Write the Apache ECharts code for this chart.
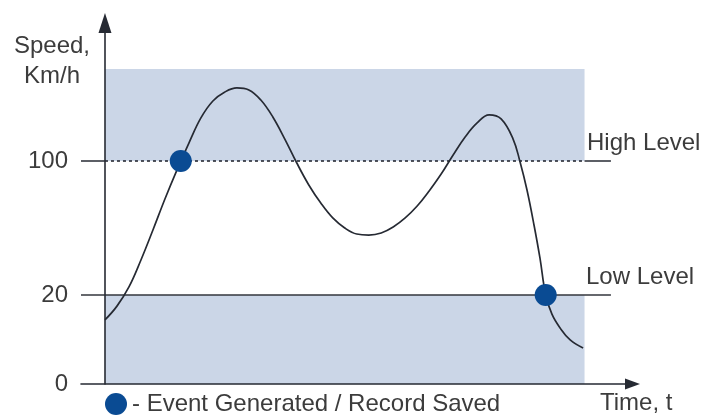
<!DOCTYPE html>
<html>
<head>
<meta charset="utf-8">
<script src="https://cdn.jsdelivr.net/npm/echarts@6/dist/echarts.min.js"></script>
<style>
  html, body { margin: 0; padding: 0; background: #ffffff; }
  #chart { width: 703px; height: 417px; }
</style>
</head>
<body>
<div id="chart"></div>
<script>
// Speed profile over time (time in arbitrary units, speed in km/h)
const curveTimes = [0, 2.5, 5.0, 7.5, 10.0, 12.5, 15.0, 17.5, 20.0, 22.5, 25.0, 27.5, 30.0, 32.5,
  35.0, 37.5, 40.0, 42.5, 45.0, 47.5, 50.0, 52.5, 55.0, 57.6, 60.1, 62.6, 65.1, 67.6, 70.1,
  72.6, 75.1, 77.6, 80.1, 82.6, 85.1, 86.5, 88.0, 89.5, 90.7, 91.9, 93.2, 94.9, 97.0, 99.7];
const curveSpeeds = [14.4, 17.5, 24.8, 40.9, 58.8, 77.3, 94.6, 110.7, 125.7, 135.8, 141.2, 143.6, 142.4, 136.4,
  126.3, 113.1, 98.8, 85.7, 74.9, 66.0, 60.0, 56.4, 55.8, 57.0, 60.6, 66.0, 73.1, 82.1, 92.2,
  103.6, 114.3, 122.7, 127.5, 125.1, 113.1, 100, 82.7, 61.2, 42.1, 20, 15.7, 12.6, 9.9, 8.1];

// Points where an event is generated and a record saved
const eventName = 'Event Generated / Record Saved';
const eventTimes = [15.8, 91.9];
const eventSpeeds = [100, 20];

// Threshold levels
const levelNames = ['High Level', 'Low Level'];
const levelSpeeds = [100, 20];
const levelSpan = [-5, 105.5];

// Shaded bands of the observation window: above the high level and below the low level
const zoneTimes = [0, 100];
const upperBand = [100, 155];
const lowerBand = [0, 20];

// Speed axis ticks
const yTickSpeeds = [0, 20, 100];
const yTickLabels = ['0', '20', '100'];

// Axis extents
const timeMin = -5, timeMax = 110;

// Schematic speed scale: the band under the low level is drawn stretched,
// above it the scale runs at a constant rate.
const scaleStops = [[0, 0], [20, 89], [100, 223]];
function toAxis(v) {
  for (let i = 1; i < scaleStops.length; i++) {
    const a = scaleStops[i - 1], b = scaleStops[i];
    if (v <= b[0] || i === scaleStops.length - 1) {
      return a[1] + (v - a[0]) * (b[1] - a[1]) / (b[0] - a[0]);
    }
  }
}
const axisMax = 361;

const FONT = "'Liberation Sans', Arial, Helvetica, sans-serif";
const TEXT = '#3c3c3c';
const INK = '#262a33';
const DOT = '#0a4b93';
const BAND = '#cbd6e7';

const curveData = curveTimes.map((t, i) => [t, toAxis(curveSpeeds[i])]);
const eventData = eventTimes.map((t, i) => [t, toAxis(eventSpeeds[i])]);
const tickPos = yTickSpeeds.map(toAxis);
const highY = toAxis(levelSpeeds[0]);
const lowY = toAxis(levelSpeeds[1]);

function bandArea(band) {
  return [{ coord: [zoneTimes[0], toAxis(band[0])] }, { coord: [zoneTimes[1], toAxis(band[1])] }];
}

const chart = echarts.init(document.getElementById('chart'), null, { renderer: 'canvas' });

chart.setOption({
  animation: false,
  backgroundColor: '#ffffff',
  textStyle: { fontFamily: FONT },
  grid: { left: 81, right: 70.5, top: 23, bottom: 33, containLabel: false },
  xAxis: {
    type: 'value', min: timeMin, max: timeMax, z: 5,
    axisLine: { onZero: true, lineStyle: { color: INK, width: 1.6 },
      symbol: ['none', 'triangle'], symbolSize: [11, 15] },
    axisTick: { show: false }, axisLabel: { show: false }, splitLine: { show: false }
  },
  yAxis: {
    type: 'value', min: 0, max: axisMax, z: 5,
    axisLine: { onZero: true, lineStyle: { color: INK, width: 1.6 },
      symbol: ['none', 'triangle'], symbolSize: [13, 20] },
    axisTick: { show: false },
    splitLine: { show: false },
    axisLabel: {
      customValues: tickPos,
      margin: 13,
      fontSize: 24, color: TEXT, fontFamily: FONT,
      formatter: function (val) {
        let best = 0;
        tickPos.forEach((p, i) => { if (Math.abs(p - val) < Math.abs(tickPos[best] - val)) best = i; });
        return yTickLabels[best];
      }
    }
  },
  legend: {
    data: [{ name: eventName, icon: 'circle', itemStyle: { color: DOT, opacity: 1 } }],
    left: 105, top: 392, padding: 0,
    itemWidth: 22, itemHeight: 22, itemGap: 5,
    formatter: '- {name}',
    textStyle: { fontSize: 24, color: TEXT, fontFamily: FONT }
  },
  series: [
    {
      name: 'window', type: 'line', z: 1, silent: true,
      data: zoneTimes.map(t => [t, highY]), showSymbol: false,
      lineStyle: { width: 0 },
      markArea: {
        silent: true,
        itemStyle: { color: BAND, opacity: 1 },
        data: [bandArea(upperBand), bandArea(lowerBand)]
      }
    },
    {
      name: levelNames[0] + ' inner', type: 'line', z: 3, silent: true,
      data: zoneTimes.map(t => [t, highY]),
      showSymbol: false,
      lineStyle: { color: INK, width: 1.6, type: [3, 3] }
    },
    {
      name: levelNames[0] + ' left', type: 'line', z: 3, silent: true,
      data: [[levelSpan[0], highY], [zoneTimes[0], highY]],
      showSymbol: false, lineStyle: { color: INK, width: 1.6 }
    },
    {
      name: levelNames[0] + ' right', type: 'line', z: 3, silent: true,
      data: [[zoneTimes[1], highY], [levelSpan[1], highY]],
      showSymbol: false, lineStyle: { color: INK, width: 1.6 }
    },
    {
      name: levelNames[1], type: 'line', z: 3, silent: true,
      data: levelSpan.map(t => [t, lowY]),
      showSymbol: false, lineStyle: { color: '#33363d', width: 1.6 }
    },
    {
      name: 'speed', type: 'line', z: 4, silent: true,
      data: curveData, smooth: 0.4,
      showSymbol: false, lineStyle: { color: INK, width: 1.7 }
    },
    {
      name: eventName, type: 'scatter', z: 6,
      data: eventData, symbol: 'circle', symbolSize: 22,
      itemStyle: { color: DOT, opacity: 1 }
    }
  ],
  graphic: [
    { type: 'text', style: {
      x: 52, y: 61, text: 'Speed,\nKm/h', align: 'center', verticalAlign: 'middle',
      lineHeight: 30, font: '24px ' + FONT, fill: TEXT } },
    { type: 'text', style: { x: 587, y: 143, text: levelNames[0], verticalAlign: 'middle',
      font: '24px ' + FONT, fill: TEXT } },
    { type: 'text', style: { x: 586, y: 277, text: levelNames[1], verticalAlign: 'middle',
      font: '24px ' + FONT, fill: TEXT } },
    { type: 'text', style: { x: 600, y: 403, text: 'Time, t', verticalAlign: 'middle',
      font: '24px ' + FONT, fill: TEXT } }
  ]
});
</script>
</body>
</html>
